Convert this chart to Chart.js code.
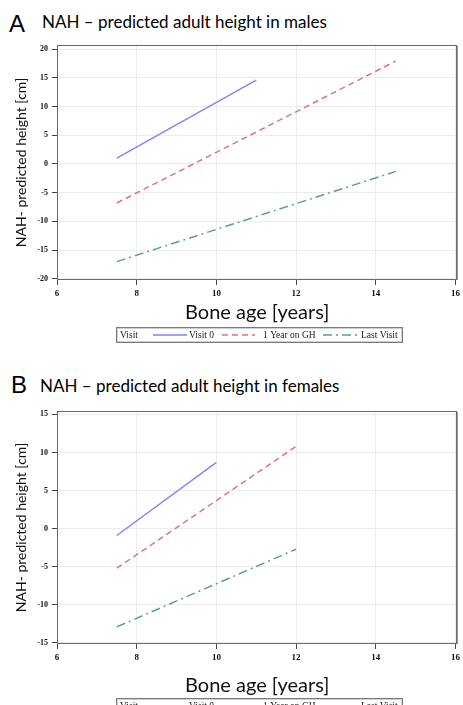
<!DOCTYPE html>
<html><head><meta charset="utf-8">
<script src="https://cdn.jsdelivr.net/npm/chart.js@4/dist/chart.umd.min.js"></script>
<style>
html,body{margin:0;padding:0;background:#fff;width:463px;height:705px;overflow:hidden;position:relative;}
.h{position:absolute;white-space:nowrap;color:#000;}
.letter{font-family:'Liberation Sans',Arial,sans-serif;font-size:24px;line-height:24px;}
.ttl{font-family:Lato,sans-serif;font-size:17px;line-height:17px;}
canvas{position:absolute;left:0;}
</style></head><body>
<div class="h letter" style="left:9px;top:12px">A</div>
<div class="h ttl" id="tA" style="left:42px;top:13px">NAH – predicted adult height in males</div>
<div class="h letter" style="left:11px;top:373px">B</div>
<div class="h ttl" id="tB" style="left:40px;top:377px">NAH – predicted adult height in females</div>
<canvas id="cA" width="463" height="345" style="top:0;width:463px;height:345px"></canvas>
<canvas id="cB" width="463" height="355" style="top:350px;width:463px;height:355px"></canvas>
<script>
// ---- data ----
const seriesNames = ['Visit 0', '1 Year on GH', 'Last Visit'];
const legendTitle = 'Visit';
const xTickValues = [6, 8, 10, 12, 14, 16];
const maleYTicks = [-20, -15, -10, -5, 0, 5, 10, 15, 20];
const femaleYTicks = [-15, -10, -5, 0, 5, 10, 15];

const maleVisit0Age = [7.5, 11];
const maleVisit0 = [1.0, 14.6];
const maleYearGHAge = [7.5, 14.5];
const maleYearGH = [-6.8, 17.9];
const maleLastAge = [7.5, 14.5];
const maleLast = [-17.0, -1.3];

const femaleVisit0Age = [7.5, 10];
const femaleVisit0 = [-0.9, 8.7];
const femaleYearGHAge = [7.5, 12];
const femaleYearGH = [-5.2, 10.8];
const femaleLastAge = [7.5, 12];
const femaleLast = [-12.9, -2.7];

// ---- styles ----
const styles = [
  {color: '#8585f2', dash: []},
  {color: '#e07474', dash: [6, 4]},
  {color: '#5c9f8f', dash: [9, 4, 2, 4]}
];

function pts(xs, ys) { return xs.map((x, i) => ({x: x, y: ys[i]})); }

function makeDatasets(groups) {
  return groups.map((g, i) => ({
    label: seriesNames[i],
    data: pts(g[0], g[1]),
    borderColor: styles[i].color,
    borderDash: styles[i].dash,
    borderWidth: 1.5,
    pointRadius: 0,
    fill: false,
    tension: 0
  }));
}

const framePlugin = {
  id: 'frame',
  beforeDatasetsDraw(chart) {},
  afterDraw(chart, args, opts) {
    const ctx = chart.ctx, a = chart.chartArea;
    ctx.save();
    ctx.strokeStyle = '#6a6a6a';
    ctx.lineWidth = 1;
    ctx.strokeRect(Math.round(a.left) + 0.5, Math.round(a.top) + 0.5,
                   Math.round(a.right - a.left) - 1, Math.round(a.bottom - a.top) - 1);
    ctx.strokeStyle = '#9a9a9a';
    ctx.beginPath();
    ctx.moveTo(Math.round(a.right) + 0.5, Math.round(a.top) + 1);
    ctx.lineTo(Math.round(a.right) + 0.5, Math.round(a.bottom));
    ctx.stroke();
    // legend
    const L = opts;
    ctx.strokeStyle = '#7a7a7a';
    ctx.strokeRect(L.x + 0.5, L.y + 0.5, L.w, L.h);
    ctx.strokeStyle = '#cfcfcf';
    ctx.strokeRect(L.x + 1.5, L.y + 1.5, L.w - 2, L.h - 2);
    const cy = L.y + L.h / 2 + 0.5;
    ctx.font = '9.5px "Liberation Serif", serif';
    ctx.fillStyle = '#222';
    ctx.textBaseline = 'middle';
    ctx.textAlign = 'left';
    ctx.fillText(legendTitle, L.titleX, cy);
    chart.data.datasets.forEach((ds, i) => {
      const it = L.items[i];
      ctx.strokeStyle = ds.borderColor;
      ctx.lineWidth = 1.5;
      ctx.setLineDash(ds.borderDash);
      ctx.beginPath();
      ctx.moveTo(it[0], cy);
      ctx.lineTo(it[1], cy);
      ctx.stroke();
      ctx.setLineDash([]);
      ctx.fillText(ds.label, it[2], cy);
    });
    ctx.restore();
  }
};

function makeChart(id, datasets, yTicks, yMin, yMax, xAxisH, titlePadBottom, legendY, target) {
  const chart = new Chart(document.getElementById(id), {
    type: 'line',
    data: {datasets: datasets},
    plugins: [framePlugin],
    options: {
      responsive: false,
      animation: false,
      devicePixelRatio: 1,
      layout: {padding: {top: target.top, right: 0, left: 0, bottom: 0}},
      plugins: {
        legend: {display: false},
        tooltip: {enabled: false},
        frame: {x: 116, y: legendY, w: 286, h: 15, titleX: 120,
                items: [[153, 187, 189], [222, 255, 263], [323, 357, 361]]}
      },
      scales: {
        x: {
          type: 'linear', min: 6, max: 16.05,
          afterBuildTicks: (ax) => { ax.ticks = xTickValues.map(v => ({value: v})); },
          afterFit: (ax) => { ax.height = xAxisH; },
          border: {display: false},
          grid: {color: '#ececec', lineWidth: 1, tickLength: 5, tickColor: '#444'},
          ticks: {padding: 3, color: '#111', maxRotation: 0,
                  font: {family: '"Liberation Serif", serif', size: 9, weight: 'bold'}},
          title: {display: true, text: 'Bone age [years]', color: '#111',
                  font: {family: 'Lato, sans-serif', size: 20},
                  padding: {top: 0, bottom: titlePadBottom}}
        },
        y: {
          type: 'linear', min: yMin, max: yMax,
          afterBuildTicks: (ax) => { ax.ticks = yTicks.map(v => ({value: v})); },
          afterFit: (ax) => { ax.width = 57; },
          border: {display: false},
          grid: {color: '#ececec', lineWidth: 1, tickLength: 5, tickColor: '#444'},
          ticks: {padding: 4, color: '#111',
                  font: {family: '"Liberation Serif", serif', size: 8, weight: 'bold'}},
          title: {display: true, text: 'NAH- predicted height [cm]', color: '#111',
                  font: {family: 'Lato, sans-serif', size: 14},
                  padding: {top: 13, bottom: 0}}
        }
      }
    }
  });
  // correct layout so the plot area lands on target
  const a = chart.chartArea;
  const p = chart.options.layout.padding;
  p.top += target.top - a.top;
  p.right += a.right - target.right;
  chart.update('none');
  return chart;
}

makeChart('cA', makeDatasets([[maleVisit0Age, maleVisit0], [maleYearGHAge, maleYearGH], [maleLastAge, maleLast]]),
  maleYTicks, -20.2, 20.7, 65, 20, 327, {top: 45, right: 460});
makeChart('cB', makeDatasets([[femaleVisit0Age, femaleVisit0], [femaleYearGHAge, femaleYearGH], [femaleLastAge, femaleLast]]),
  femaleYTicks, -15.15, 15.45, 61, 7, 348, {top: 61, right: 460});
</script>
</body></html>
